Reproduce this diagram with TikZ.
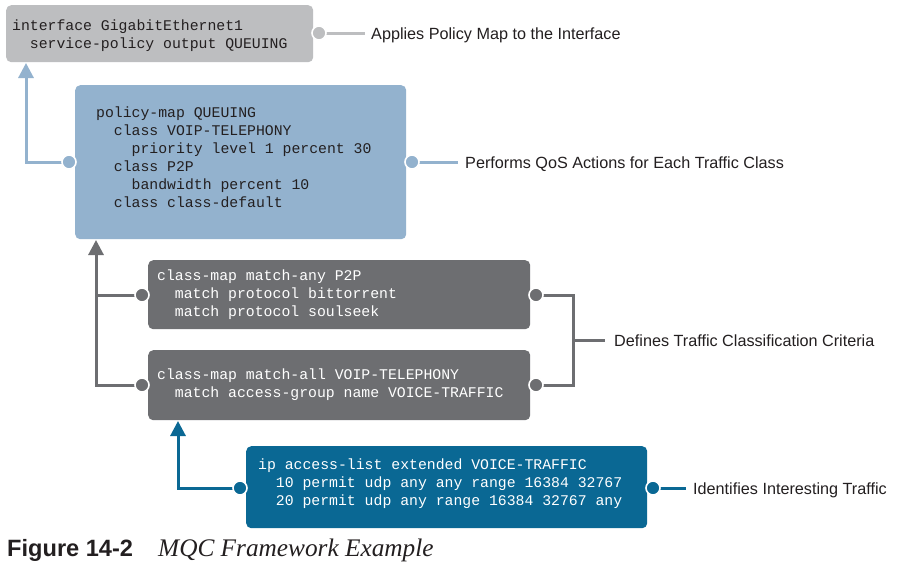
\documentclass[tikz,border=0pt]{standalone}
\usepackage{fontspec}
\newfontfamily\labfont{Liberation Sans}
\newfontfamily\capserif{Liberation Serif}
\newfontfamily\codefont{Liberation Mono}
\usetikzlibrary{arrows.meta}
\definecolor{boxgray}{HTML}{BDBEC0}
\definecolor{boxblue}{HTML}{93B2CE}
\definecolor{boxdark}{HTML}{6D6E71}
\definecolor{boxteal}{HTML}{0A6894}
\definecolor{labtext}{HTML}{231F20}
\newcommand{\ind}[1]{\hspace*{#1\dimexpr 8.88pt\relax}}
\newcommand{\cTop}[1]{\rule{0pt}{#1pt}}
\newcommand{\cBot}[1]{\rule[-#1pt]{0pt}{0pt}}
\ExplSyntaxOn
\NewDocumentCommand\cl{m}{ \str_map_inline:nn {#1} { \makebox[8.88pt][c]{##1} } }
\ExplSyntaxOff
\begin{document}
\begin{tikzpicture}[x=1pt,y=-1pt,
  codebox/.style={rounded corners=5pt, anchor=north west, inner ysep=0pt, align=left,
    font={\codefont\fontsize{14.8pt}{18pt}\selectfont}},
  dot/.style={circle, draw=white, line width=1.6pt, minimum size=15pt, inner sep=0pt},
  conn/.style={line width=3pt},
  tip/.style={-{Triangle[width=15pt,length=15pt]}},
  lab/.style={anchor=base west, inner sep=0pt, text=labtext,
    font={\labfont\fontsize{16.2pt}{19pt}\selectfont}}
]
\useasboundingbox (0,0) rectangle (900,563);
\fill[white] (0,0) rectangle (900,563);

% coordinates for connector ends
\coordinate (l1) at (365,33);
\coordinate (l2) at (458,162);
\coordinate (jr) at (573,340);
\coordinate (l3) at (605,340);
\coordinate (l4) at (686,488);
\coordinate (a1) at (26,63);
\coordinate (a2) at (96,240);
\coordinate (a3) at (178,421);

% dots
\node[dot, fill=boxgray] (gd) at (319,33) {};
\node[dot, fill=boxblue] (bdl) at (69,162) {};
\node[dot, fill=boxblue] (bdr) at (412,162) {};
\node[dot, fill=boxdark] (dal) at (142,295) {};
\node[dot, fill=boxdark] (dar) at (536,295) {};
\node[dot, fill=boxdark] (dbl) at (142,385) {};
\node[dot, fill=boxdark] (dbr) at (536,385) {};
\node[dot, fill=boxteal] (tl) at (240,488) {};
\node[dot, fill=boxteal] (tr) at (653,488) {};

% connectors
\draw[conn, boxgray] (gd.center) -- (l1);
\draw[conn, boxblue, tip] (bdl.center) -| (a1);
\draw[conn, boxblue] (bdr.center) -- (l2);
\draw[conn, boxdark, tip] (dbl.center) -| (a2);
\draw[conn, boxdark] (dal.center) -- (dal.center -| a2);
\draw[conn, boxdark] (dar.center) -| (jr) |- (dbr.center);
\draw[conn, boxdark] (jr) -- (l3);
\draw[conn, boxteal, tip] (tl.center) -| (a3);
\draw[conn, boxteal] (tr.center) -- (l4);

% boxes
\node[codebox, fill=boxgray, text=labtext, inner xsep=6pt, text width=295pt, minimum height=57pt]
  (gbox) at (6,5) {\cTop{15}\cl{interface GigabitEthernet1}\\\ind{2}\cl{service-policy output QUEUING}\cBot{4}};
\node[codebox, fill=boxblue, text=labtext, inner xsep=21pt, text width=289pt, minimum height=154pt]
  (bbox) at (75,85) {\cTop{12}\cl{policy-map QUEUING}\\\ind{2}\cl{class VOIP-TELEPHONY}\\\ind{4}\cl{priority level 1 percent 30}\\\ind{2}\cl{class P2P}\\\ind{4}\cl{bandwidth percent 10}\\\ind{2}\cl{class class-default}\cBot{12}};
\node[codebox, fill=boxdark, text=white, inner xsep=9pt, text width=364pt, minimum height=69pt]
  (dabox) at (148,260) {\cTop{12}\cl{class-map match-any P2P}\\\ind{2}\cl{match protocol bittorrent}\\\ind{2}\cl{match protocol soulseek}\cBot{5}};
\node[codebox, fill=boxdark, text=white, inner xsep=9pt, text width=364pt, minimum height=70pt]
  (dbbox) at (148,350) {\cTop{12}\cl{class-map match-all VOIP-TELEPHONY}\\\ind{2}\cl{match access-group name VOICE-TRAFFIC}\cBot{6}};
\node[codebox, fill=boxteal, text=white, inner xsep=12pt, text width=377pt, minimum height=82pt]
  (tbox) at (246,446) {\cTop{12}\cl{ip access-list extended VOICE-TRAFFIC}\\\ind{2}\cl{10 permit udp any any range 16384 32767}\\\ind{2}\cl{20 permit udp any range 16384 32767 any}\cBot{12}};

% dots again on top of boxes
\foreach \n/\c in {gd/boxgray,bdl/boxblue,bdr/boxblue,dal/boxdark,dar/boxdark,dbl/boxdark,dbr/boxdark,tl/boxteal,tr/boxteal}
  \fill[\c, draw=white, line width=1.6pt] (\n.center) circle (7pt);

% labels
\node[lab] (t1) at (371,39) {Applies Policy Map to the Interface};
\node[lab] (t2) at (465,168) {Performs QoS Actions for Each Traffic Class};
\node[lab] (t3) at (614,346) {Defines Traffic Classification Criteria};
\node[lab] (t4) at (693,494) {Identifies Interesting Traffic};

% caption
\node[anchor=base west, inner sep=0pt, text=labtext, font={\labfont\bfseries\fontsize{23.6pt}{26pt}\selectfont}]
  (cap1) at (7,556) {Figure 14-2};
\node[anchor=base west, inner sep=0pt, text=labtext, font={\capserif\itshape\fontsize{25.3pt}{27pt}\selectfont}]
  (cap2) at (158,556) {MQC Framework Example};
\end{tikzpicture}
\end{document}
